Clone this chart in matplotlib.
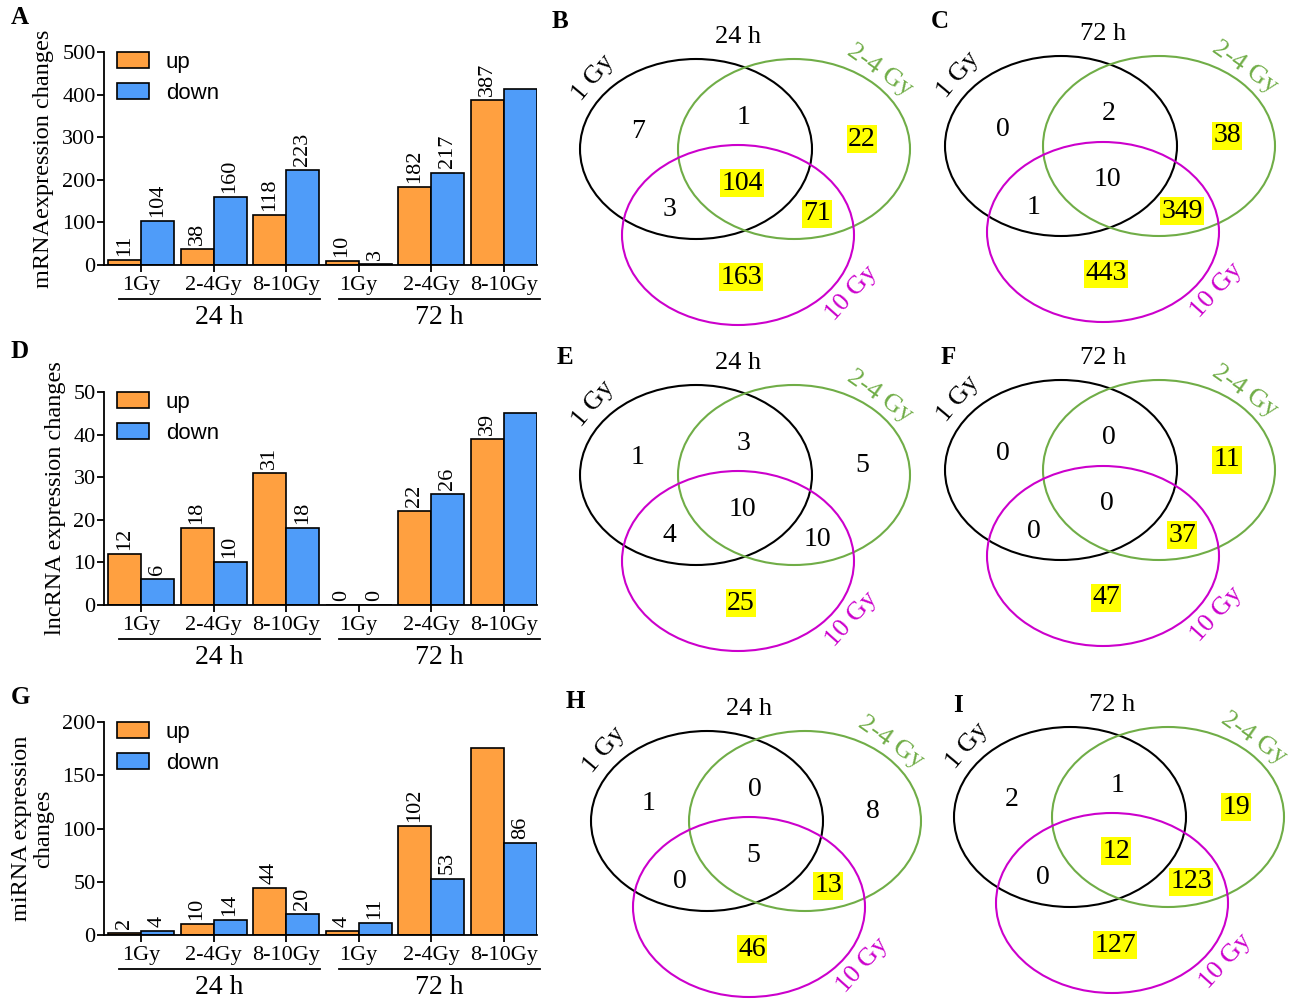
import matplotlib

matplotlib.use("Agg")
import matplotlib as mpl
import matplotlib.pyplot as plt
import numpy as np
from matplotlib.patches import Ellipse

# ---- data -------------------------------------------------------------
dose_labels = ["1Gy", "2-4Gy", "8-10Gy", "1Gy", "2-4Gy", "8-10Gy"]
time_labels = ["24 h", "72 h"]

mrna_up = [11, 38, 118, 10, 182, 387]
mrna_down = [104, 160, 223, 3, 217, 414]
lncrna_up = [12, 18, 31, 0, 22, 39]
lncrna_down = [6, 10, 18, 0, 26, 45]
mirna_up = [2, 10, 44, 4, 102, 176]
mirna_down = [4, 14, 20, 11, 53, 86]

# bars that carry no value label in the original
mrna_down_shown = [True, True, True, True, True, False]
lncrna_down_shown = [True, True, True, True, True, False]
mirna_up_shown = [True, True, True, True, True, False]

venn_sets = ["1 Gy", "2-4 Gy", "10 Gy"]
# region order: 1Gy only, 1Gy&2-4, 2-4 only, all, 1Gy&10, 2-4&10, 10 only
venn_b = [7, 1, 22, 104, 3, 71, 163]
venn_c = [0, 2, 38, 10, 1, 349, 443]
venn_e = [1, 3, 5, 10, 4, 10, 25]
venn_f = [0, 0, 11, 0, 0, 37, 47]
venn_h = [1, 0, 8, 5, 0, 13, 46]
venn_i = [2, 1, 19, 12, 0, 123, 127]
hl_b = [0, 0, 1, 1, 0, 1, 1]
hl_c = [0, 0, 1, 0, 0, 1, 1]
hl_e = [0, 0, 0, 0, 0, 0, 1]
hl_f = [0, 0, 1, 0, 0, 1, 1]
hl_h = [0, 0, 0, 0, 0, 1, 1]
hl_i = [0, 0, 1, 1, 0, 1, 1]

# ---- style ------------------------------------------------------------
serif = "Liberation Serif"
sans = "Liberation Sans"
mpl.rc("font", family=serif, size=16)
mpl.rc("axes", linewidth=1.3)
orange = "#FFA040"
blue = "#4F9CF9"
green = "#70AD47"
magenta = "#CC00CC"

W, H = 1301, 1000
fig = plt.figure(figsize=(W / 100, H / 100), dpi=100)


def px_axes(left, top, right, bottom):
    """axes from pixel box"""
    return fig.add_axes([left / W, 1 - bottom / H, (right - left) / W, (bottom - top) / H])


def bar_panel(top, bottom, up, down, ymax, ystep, ylabel, lab_x, up_shown=None, down_shown=None):
    ax = px_axes(104, top, 537, bottom)
    x = np.arange(len(up))
    bw = 0.455
    ax.bar(x - bw / 2, up, bw, color=orange, edgecolor="black", linewidth=1.2, label="up")
    ax.bar(x + bw / 2, down, bw, color=blue, edgecolor="black", linewidth=1.2, label="down")

    if up_shown is None:
        up_shown = [True] * len(up)
    if down_shown is None:
        down_shown = [True] * len(down)
    for xi, v, s in zip(x - bw / 2, up, up_shown):
        if s:
            ax.annotate(str(v), (xi, v), xytext=(0, 3), textcoords="offset points",
                        rotation=90, ha="center", va="bottom", fontsize=16)
    for xi, v, s in zip(x + bw / 2, down, down_shown):
        if s:
            ax.annotate(str(v), (xi, v), xytext=(0, 3), textcoords="offset points",
                        rotation=90, ha="center", va="bottom", fontsize=16)

    ax.set_xlim(-0.51, 5.46)
    ax.set_ylim(0, ymax)
    ax.set_yticks(np.arange(0, ymax + 1, ystep))
    ax.set_xticks(x)
    ax.set_xticklabels(dose_labels)
    ax.spines["top"].set_visible(False)
    ax.spines["right"].set_visible(False)
    ax.tick_params(length=5, width=1.3, labelsize=16)
    ax.tick_params(axis="x", pad=3)
    ax.tick_params(axis="y", pad=1)
    ax.set_ylabel(ylabel, fontsize=17.5, linespacing=1.05)
    ax.yaxis.set_label_coords(lab_x, 0.5)

    # time group underlines
    trans = ax.get_xaxis_transform()
    hpx = bottom - top
    for (x0, x1), lab in zip([(-0.3, 2.47), (2.73, 5.5)], time_labels):
        ax.plot([x0, x1], [-34 / hpx] * 2, color="black", lw=1.3, transform=trans, clip_on=False)
        ax.text((x0 + x1) / 2, -52 / hpx, lab, transform=trans, ha="center", va="center", fontsize=20)

    leg = ax.legend(loc="upper left", bbox_to_anchor=(-0.016, 1.096), frameon=False,
                    prop={"family": sans, "size": 16}, handlelength=1.45, handleheight=0.75,
                    labelspacing=0.45, handletextpad=0.75)
    for p in leg.get_patches():
        p.set_linewidth(1.2)
    return ax


bar_panel(52, 265, mrna_up, mrna_down, 500, 100, "mRNAexpression changes", -0.116,
          down_shown=mrna_down_shown)
bar_panel(392, 605, lncrna_up, lncrna_down, 50, 10, "lncRNA expression changes", -0.088,
          down_shown=lncrna_down_shown)
bar_panel(722, 935, mirna_up, mirna_down, 200, 50, "miRNA expression\nchanges", -0.116,
          up_shown=mirna_up_shown)

# ---- venn diagrams on a pixel overlay ----------------------------------
ov = fig.add_axes([0, 0, 1, 1])
ov.set_xlim(0, W)
ov.set_ylim(H, 0)
ov.axis("off")
ov.patch.set_alpha(0)

region_off = [(-58, -17), (48, -32), (166, -10), (46, 34), (-27, 61), (121, 65), (45, 128)]


def venn(ox, oy, title, counts, hl):
    for dx, dy, c in [(0, 0, "black"), (98, 0, green), (42, 86, magenta)]:
        ov.add_patch(Ellipse((ox + dx, oy + dy), 232, 180, fill=False, edgecolor=c, lw=1.5))
    ov.text(ox + 42, oy - 112, title, ha="center", va="center", fontsize=19)
    ov.text(ox - 103, oy - 71, venn_sets[0], ha="center", va="center", fontsize=19, rotation=50)
    ov.text(ox + 184, oy - 79, venn_sets[1], ha="center", va="center", fontsize=19,
            rotation=-35, color=green)
    ov.text(ox + 156, oy + 144, venn_sets[2], ha="center", va="center", fontsize=19,
            rotation=48, color=magenta)
    for (dx, dy), n, h in zip(region_off, counts, hl):
        bbox = dict(boxstyle="square,pad=0.05", fc="#FFFF00", ec="none") if h else None
        ov.text(ox + dx, oy + dy, str(n), ha="center", va="center", fontsize=20, bbox=bbox)


venn(696, 149, "24 h", venn_b, hl_b)
venn(1061, 146, "72 h", venn_c, hl_c)
venn(696, 475, "24 h", venn_e, hl_e)
venn(1061, 470, "72 h", venn_f, hl_f)
venn(707, 821, "24 h", venn_h, hl_h)
venn(1070, 817, "72 h", venn_i, hl_i)

# panel letters
for lab, (x, y) in zip("ABCDEFGHI", [(20, 18), (560, 22), (940, 22), (20, 352), (565, 357),
                                     (948, 357), (20, 697), (575, 702), (958, 705)]):
    ov.text(x, y, lab, ha="center", va="center", fontsize=18, fontweight="bold")

fig.savefig("out.png", dpi=100)
